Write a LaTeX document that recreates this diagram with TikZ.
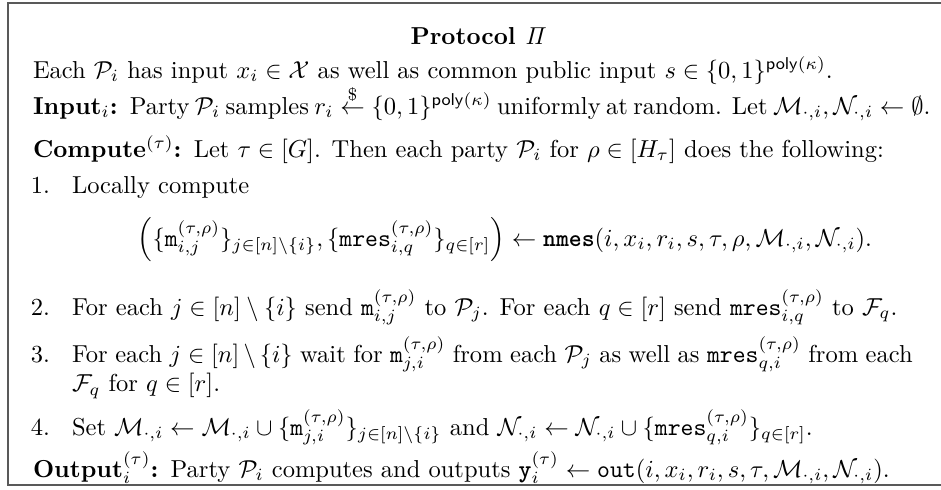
\documentclass[tikz,border=0pt]{standalone}
\usepackage{amsmath,amssymb}
\newcommand{\Pc}{\mathcal{P}}
\newcommand{\Mc}{\mathcal{M}_{\cdot,i}}
\newcommand{\Nc}{\mathcal{N}_{\cdot,i}}
\newcommand{\mm}{\mathtt{m}}
\newcommand{\mres}{\mathtt{mres}}
\newcommand{\tr}{^{(\tau,\rho)}}
\begin{document}
\begin{tikzpicture}[x=0.408pt,y=-0.408pt,
  txt/.style={inner sep=0pt,outer sep=0pt,anchor=base west},
  lab/.style={inner sep=0pt,outer sep=0pt,anchor=base east},
  frame/.style={draw=black!65,line width=0.6pt}]
\useasboundingbox (0,0) rectangle (941,489);
\begin{scope}
\clip (0,0) rectangle (941,489);
\draw[frame] (8,3) rectangle (980,485);
\end{scope}
\node[inner sep=0pt,anchor=base] (title) at (479,44) {\textbf{Protocol $\mathit{\Pi}$}};
\node[txt] (each) at (33,78) {Each $\Pc_i$ has input $x_i\in\mathcal{X}$ as well as common public input $s\in\{0,1\}^{\mathsf{poly}(\kappa)}$.};
\node[txt] (input) at (33,114) {\makebox[364pt][s]{\textbf{Input}$_i$\textbf{:}\hspace{0.5em}Party $\Pc_i$ samples $r_i\overset{\$}{\leftarrow}\{0,1\}^{\mathsf{poly}(\kappa)}$ uniformly at random. Let $\Mc,\Nc\leftarrow\emptyset$.}};
\node[txt] (compute) at (33,157) {\textbf{Compute}$^{(\tau)}$\textbf{:}\hspace{0.5em}Let $\tau\in[G]$. Then each party $\Pc_i$ for $\rho\in[H_\tau]$ does the following:};
\node[lab] (l1) at (50,193) {1.};
\node[txt] (i1) at (72,193) {Locally compute};
\node[inner sep=0pt,anchor=base] (formula) at (505,246) {$\left(\{\mm\tr_{i,j}\}_{j\in[n]\setminus\{i\}},\{\mres\tr_{i,q}\}_{q\in[r]}\right)\leftarrow\texttt{\textbf{nmes}}(i,x_i,r_i,s,\tau,\rho,\Mc,\Nc).$};
\node[lab] (l2) at (50,315) {2.};
\node[txt] (i2) at (72,315) {For each $j\in[n]\setminus\{i\}$ send $\mm\tr_{i,j}$ to $\Pc_j$. For each $q\in[r]$ send $\mres\tr_{i,q}$ to $\mathcal{F}_q$.};
\node[lab] (l3) at (50,362) {3.};
\node[txt] (i3) at (72,362) {\parbox[t]{343pt}{For each $j\in[n]\setminus\{i\}$ wait for $\mm\tr_{j,i}$ from each $\Pc_j$ as well as $\mres\tr_{q,i}$ from each $\mathcal{F}_q$ for $q\in[r]$.}};
\node[lab] (l4) at (50,435) {4.};
\node[txt] (i4) at (72,435) {Set $\Mc\leftarrow\Mc\cup\{\mm\tr_{j,i}\}_{j\in[n]\setminus\{i\}}$ and $\Nc\leftarrow\Nc\cup\{\mres\tr_{q,i}\}_{q\in[r]}$.};
\node[txt] (output) at (33,477) {\textbf{Output}$^{(\tau)}_i$\textbf{:}\hspace{0.5em}Party $\Pc_i$ computes and outputs $\texttt{\textbf{y}}^{(\tau)}_i\leftarrow\mathtt{out}(i,x_i,r_i,s,\tau,\Mc,\Nc)$.};
\end{tikzpicture}
\end{document}
